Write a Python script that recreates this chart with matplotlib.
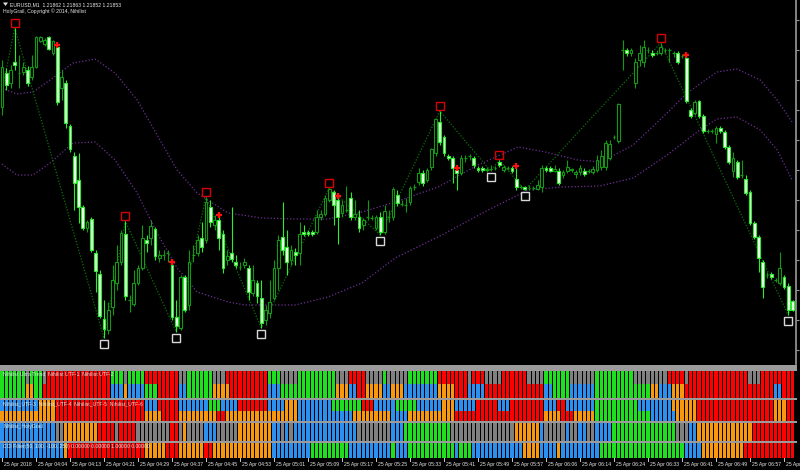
import matplotlib
matplotlib.use("Agg")
import matplotlib.pyplot as plt
from matplotlib.patches import Rectangle, Polygon

W, H = 800, 470
BAR_PX = 4.25          # horizontal spacing of one M1 bar
FIRST_PX = 2.0         # x pixel of bar 0

# EURUSD M1 bars, prices in points above 1.21000
OPEN = [1056, 1090, 1080, 1101, 1090, 1091, 1093, 1086, 1096, 1122,
        1119, 1126, 1110, 1116, 1075, 1080, 1037, 1007, 983, 956,
        935, 944, 910, 889, 844, 833, 856, 880, 901, 929,
        863, 859, 880, 895, 923, 925, 934, 905, 908, 910,
        898, 846, 835, 886, 858, 908, 910, 925, 923, 956,
        938, 943, 929, 903, 910, 901, 896, 898, 895, 870,
        880, 865, 843, 850, 865, 895, 926, 916, 903, 911,
        910, 931, 931, 931, 931, 946, 949, 963, 971, 963,
        950, 953, 965, 946, 946, 938, 946, 945, 935, 946,
        931, 946, 946, 968, 959, 958, 961, 976, 981, 990,
        983, 996, 1010, 1041, 1026, 1007, 1005, 993, 990, 1005,
        1007, 1005, 995, 995, 993, 994, 995, 1001, 993, 995,
        995, 984, 976, 976, 975, 975, 974, 976, 995, 995,
        992, 992, 988, 992, 993, 989, 991, 992, 992, 991,
        993, 996, 996, 1005, 1026, 1022, 1113, 1113, 1110, 1080,
        1103, 1101, 1113, 1110, 1110, 1110, 1113, 1113, 1110, 1110,
        1107, 1105, 1053, 1050, 1062, 1047, 1032, 1032, 1029, 1035,
        1031, 1016, 992, 1001, 988, 984, 971, 940, 926, 901,
        888, 889, 883, 880, 886, 877, 862]
CLOSE = [1096, 1078, 1093, 1098, 1090, 1096, 1080, 1096, 1126, 1126,
         1123, 1114, 1122, 1061, 1086, 1040, 1014, 980, 956, 935,
         941, 913, 892, 847, 834, 853, 883, 901, 930, 867,
         863, 880, 895, 925, 920, 937, 907, 908, 908, 910,
         846, 837, 886, 853, 901, 908, 923, 916, 961, 941,
         943, 925, 895, 907, 904, 898, 896, 901, 871, 883,
         867, 840, 853, 861, 895, 923, 913, 901, 913, 908,
         929, 929, 929, 929, 946, 949, 965, 974, 958, 946,
         958, 953, 946, 949, 935, 943, 946, 945, 946, 931,
         952, 946, 974, 960, 959, 958, 975, 976, 990, 980,
         993, 1014, 1044, 1021, 1010, 1005, 995, 990, 1005, 1005,
         1007, 998, 993, 993, 994, 994, 995, 998, 996, 995,
         992, 976, 976, 974, 975, 975, 978, 995, 993, 992,
         994, 980, 991, 996, 994, 991, 995, 989, 992, 994,
         1003, 1007, 1020, 1019, 1026, 1059, 1113, 1110, 1113, 1101,
         1110, 1116, 1113, 1108, 1110, 1116, 1113, 1113, 1110, 1101,
         1107, 1062, 1047, 1061, 1047, 1032, 1032, 1032, 1035, 1032,
         1016, 1001, 1005, 986, 988, 970, 940, 926, 905, 876,
         888, 886, 883, 895, 876, 853, 853]
HIGH = [1103, 1095, 1098, 1135, 1108, 1101, 1097, 1108, 1127, 1127,
        1125, 1127, 1123, 1118, 1093, 1083, 1039, 1011, 1010, 958,
        943, 946, 913, 893, 863, 861, 898, 918, 933, 942,
        868, 893, 898, 938, 928, 943, 936, 913, 913, 913,
        901, 863, 888, 888, 913, 918, 928, 941, 966, 963,
        948, 948, 933, 913, 956, 908, 901, 905, 898, 898,
        883, 883, 858, 883, 903, 928, 961, 933, 918, 915,
        941, 938, 933, 933, 953, 953, 968, 975, 973, 967,
        963, 977, 971, 963, 953, 945, 963, 948, 948, 951,
        958, 953, 976, 973, 963, 965, 977, 979, 995, 993,
        995, 1015, 1045, 1052, 1028, 1009, 1007, 995, 1008, 1008,
        1009, 1007, 997, 997, 996, 998, 997, 1003, 998, 997,
        997, 997, 978, 977, 978, 977, 983, 998, 997, 997,
        998, 995, 993, 1003, 995, 993, 998, 995, 994, 997,
        1008, 1013, 1023, 1023, 1028, 1060, 1123, 1115, 1115, 1105,
        1118, 1123, 1116, 1113, 1113, 1120, 1115, 1115, 1112, 1112,
        1109, 1108, 1055, 1063, 1063, 1049, 1034, 1034, 1037, 1037,
        1033, 1018, 1011, 1003, 1003, 988, 973, 942, 928, 903,
        891, 891, 885, 911, 888, 880, 863]
LOW = [1048, 1073, 1075, 1093, 1075, 1088, 1077, 1083, 1095, 1121,
       1117, 1113, 1108, 1058, 1063, 1035, 1011, 953, 940, 933,
       931, 911, 871, 845, 825, 829, 848, 873, 898, 863,
       851, 857, 878, 893, 911, 918, 903, 901, 903, 901,
       843, 831, 833, 851, 853, 901, 907, 911, 920, 936,
       933, 913, 890, 898, 901, 895, 893, 895, 863, 867,
       860, 835, 838, 845, 863, 873, 908, 888, 898, 898,
       898, 927, 927, 927, 929, 943, 947, 961, 938, 919,
       946, 951, 943, 943, 931, 933, 943, 943, 933, 928,
       929, 941, 943, 957, 957, 951, 958, 973, 978, 977,
       981, 993, 1007, 1018, 1007, 1003, 980, 973, 988, 1001,
       1003, 995, 991, 991, 991, 992, 993, 996, 991, 993,
       990, 973, 974, 973, 973, 973, 973, 971, 991, 991,
       991, 978, 985, 990, 991, 985, 988, 987, 990, 989,
       991, 993, 993, 1003, 1024, 1020, 1093, 1107, 1107, 1075,
       1097, 1096, 1110, 1106, 1108, 1108, 1110, 1101, 1106, 1099,
       1105, 1060, 1045, 1048, 1045, 1030, 1030, 1030, 1020, 1030,
       1014, 999, 986, 984, 985, 968, 938, 924, 891, 865,
       885, 884, 881, 878, 874, 848, 852]

# zigzag swing points (bar index, 'H' = swing high, 'L' = swing low)
ZIGZAG_START = 1073
PIVOTS = [(3, 'H'), (24, 'L'), (29, 'H'), (41, 'L'), (48, 'H'), (61, 'L'),
          (77, 'H'), (89, 'L'), (103, 'H'), (115, 'L'), (117, 'H'),
          (123, 'L'), (155, 'H'), (185, 'L')]
SIGNAL_BARS = [13, 40, 51, 79, 107, 121, 161]

# channel lines (sampled along the bars)
ENV_UP_BARS = [0, 3.5, 7.3, 11.3, 16.7, 21.9, 26.6, 31.8, 36.5, 41.2, 45.9,
               53.2, 61.2, 69, 76.7, 84.7, 92.5, 102.6, 112, 121.4, 127.8,
               135.5, 141, 148.5, 156.5, 161.2, 168.2, 172.9, 178.4, 182.4,
               185.9]
ENV_UP = [1075, 1069, 1071, 1083, 1100, 1104, 1090, 1063, 1028, 993, 970,
          950, 945, 944, 944, 951, 961, 976, 998, 1016, 1011,
          1003, 1001, 1018, 1050, 1070, 1091, 1094, 1083, 1063, 1041]
ENV_LO_BARS = [0, 3.5, 7.3, 11.3, 16.7, 21.9, 26.6, 31.8, 36.5, 41.2, 45.9,
               53.2, 57.2, 69, 76.7, 84.7, 92.5, 103.5, 114.4, 123.8, 131.8,
               140.7, 148.5, 156.5, 164.2, 168.2, 172.9, 178.4, 182.4, 185.9]
ENV_LO = [999, 988, 988, 1000, 1020, 1021, 1003, 970, 930, 895, 871,
          861, 858, 858, 866, 880, 905, 928, 953, 973, 976,
          977, 985, 1008, 1033, 1044, 1046, 1033, 1013, 983]

TIME_LABELS = ["25 Apr 2018", "25 Apr 04:04", "25 Apr 04:13", "25 Apr 04:21",
               "25 Apr 04:29", "25 Apr 04:37", "25 Apr 04:45", "25 Apr 04:53",
               "25 Apr 05:01", "25 Apr 05:09", "25 Apr 05:17", "25 Apr 05:25",
               "25 Apr 05:33", "25 Apr 05:41", "25 Apr 05:49", "25 Apr 05:57",
               "25 Apr 06:06", "25 Apr 06:14", "25 Apr 06:24", "25 Apr 06:33",
               "25 Apr 06:41", "25 Apr 06:49", "25 Apr 06:57", "25 Apr"]
LABEL_EVERY = 8

# indicator colour states per bar, run-length: (state, number of bars)
ULTRA_TOP = [("G", 6), ("A", 1), ("G", 3), ("A", 1), ("R", 15), ("G", 3), ("A", 1),
             ("G", 4), ("R", 8), ("A", 2), ("G", 6), ("A", 3), ("R", 10),
             ("G", 3), ("A", 4), ("G", 9), ("A", 3), ("R", 4), ("A", 4), ("G", 1),
             ("A", 5), ("G", 7), ("R", 7), ("A", 1), ("R", 3), ("A", 4), ("R", 6),
             ("A", 3), ("A", 1), ("G", 6), ("A", 6), ("G", 9), ("A", 8), ("R", 4),
             ("A", 1), ("R", 14), ("A", 3), ("R", 8)]
ULTRA_BOT = [("G", 6), ("O", 2), ("G", 2), ("R", 16), ("B", 3), ("O", 1), ("B", 4),
             ("G", 3), ("R", 5), ("B", 2), ("G", 6), ("O", 4), ("R", 9),
             ("B", 3), ("G", 13), ("O", 3), ("B", 2), ("R", 2), ("O", 4), ("B", 2),
             ("O", 3), ("B", 8), ("O", 4), ("R", 3), ("B", 4), ("R", 13),
             ("R", 1), ("B", 2), ("G", 4), ("B", 6), ("G", 13), ("O", 2), ("B", 3),
             ("O", 3), ("R", 21), ("B", 2), ("R", 3)]
UTF_TOP = [("B", 9), ("O", 4), ("R", 21), ("B", 3), ("R", 5), ("B", 7), ("G", 3),
           ("B", 4), ("R", 7),
           ("B", 4), ("O", 3), ("B", 8), ("G", 7), ("R", 3), ("B", 5), ("G", 5),
           ("B", 6), ("O", 3), ("B", 5), ("R", 5), ("B", 3), ("R", 7),
           ("R", 1), ("B", 3), ("R", 2), ("B", 7), ("G", 10), ("B", 8), ("O", 6),
           ("R", 18), ("O", 3), ("R", 2)]
UTF_BOT = [("O", 13), ("R", 21), ("O", 4), ("R", 4), ("O", 9), ("R", 2), ("O", 10),
           ("O", 7), ("B", 13), ("O", 9), ("B", 4), ("O", 11), ("R", 20),
           ("R", 1), ("O", 4), ("R", 3), ("O", 5), ("G", 13), ("B", 6), ("O", 5),
           ("R", 18), ("O", 3), ("R", 2)]
HOLYGRAIL = [("B", 13), ("A", 2), ("O", 8), ("R", 4), ("A", 1), ("R", 4), ("A", 8),
             ("R", 2), ("A", 1), ("O", 1), ("A", 4), ("B", 3), ("A", 5), ("O", 8),
             ("B", 2), ("A", 1), ("B", 1), ("A", 1), ("B", 15), ("A", 8), ("B", 3),
             ("G", 11), ("A", 15), ("O", 6), ("B", 1), ("A", 5), ("B", 1), ("A", 2),
             ("B", 2), ("A", 2), ("B", 4), ("G", 15), ("A", 3), ("B", 2), ("O", 13),
             ("R", 10)]
CCI_FILTER = [("B", 15), ("O", 1), ("R", 18), ("O", 5), ("R", 3), ("O", 6), ("R", 2),
              ("O", 14), ("B", 9), ("G", 9), ("B", 10), ("G", 1), ("B", 3), ("G", 11),
              ("B", 1), ("G", 3), ("B", 12), ("O", 4), ("B", 4), ("O", 1), ("B", 9),
              ("G", 20), ("B", 4), ("O", 10), ("R", 12)]

STATE_COLORS = {"R": "#ff0000", "G": "#1ee01e", "O": "#f7980f",
                "B": "#2b90f0", "A": "#808080"}


def expand(runs):
    out = []
    for state, n in runs:
        out.extend([state] * n)
    return out


def px_axes(fig, x0, y0, x1, y1):
    return fig.add_axes([x0 / W, 1 - y1 / H, (x1 - x0) / W, (y1 - y0) / H])


def px_text(fig, x, y, s, **kw):
    fig.text(x / W, 1 - y / H, s, **kw)


def px_rect(fig, x0, y0, x1, y1, color):
    fig.patches.append(Rectangle((x0 / W, 1 - y1 / H), (x1 - x0) / W, (y1 - y0) / H,
                                 transform=fig.transFigure, facecolor=color,
                                 edgecolor="none", zorder=0))


def bar_xlim(ax, x_right_px):
    ax.set_xlim((0 - FIRST_PX) / BAR_PX, (x_right_px - FIRST_PX) / BAR_PX)


def clean(ax):
    ax.set_facecolor("black")
    ax.set_xticks([])
    ax.set_yticks([])
    for s in ax.spines.values():
        s.set_visible(False)


fig = plt.figure(figsize=(W / 100, H / 100), dpi=100, facecolor="black")
FONT = dict(family="Liberation Sans", fontsize=3.7, color="#e8e8e8")

# ---- main price window ----
MAIN_BOTTOM = 364
ax = px_axes(fig, 0, 0, 796, MAIN_BOTTOM)
clean(ax)
bar_xlim(ax, 796)
top_pts = 1163
ax.set_ylim(top_pts - MAIN_BOTTOM, top_pts)

bars = range(len(OPEN))
bull_edge, bear_edge = "#139a13", "#2aee2a"
for i in bars:
    o, c, hi, lo = OPEN[i], CLOSE[i], HIGH[i], LOW[i]
    edge = bear_edge if c < o else bull_edge
    ax.vlines(i, lo, hi, color=edge, lw=0.8, zorder=2)
    if c == o:
        ax.hlines(o, i - 0.35, i + 0.35, color=bull_edge, lw=0.9, zorder=3)
    else:
        face = "#eaffea" if c < o else "black"
        ax.bar(i, abs(c - o), bottom=min(o, c), width=0.62, facecolor=face,
               edgecolor=edge, lw=0.8, zorder=3)

# channel
ax.plot(ENV_UP_BARS, ENV_UP, color="#6d2f93", lw=0.9, ls=(0, (1, 1.6)), zorder=1)
ax.plot(ENV_LO_BARS, ENV_LO, color="#6d2f93", lw=0.9, ls=(0, (1, 1.6)), zorder=1)

# zigzag
zx = [0] + [p for p, _ in PIVOTS] + [len(OPEN) - 1]
zy = [ZIGZAG_START] + [HIGH[p] if k == "H" else LOW[p] for p, k in PIVOTS] + [CLOSE[-1] + 8]
ax.plot(zx, zy, color="#0b720b", lw=0.9, ls=(0, (1, 1.4)), zorder=1)

# swing markers
hx = [p for p, k in PIVOTS if k == "H"]
lx = [p for p, k in PIVOTS if k == "L"]
ax.plot(hx, [HIGH[p] + 5 for p in hx], "s", ms=5.2, mfc="none", mec="#d80000",
        mew=1.0, zorder=5)
ax.plot(lx, [LOW[p] - 6 for p in lx], "s", ms=5.2, mfc="none", mec="#d8d8d8",
        mew=1.0, zorder=5)
ax.plot(SIGNAL_BARS, [HIGH[b] for b in SIGNAL_BARS], "+", ms=4.5, mew=1.6,
        color="#ff1010", zorder=6)

# price scale line with ticks on the right
ax.spines["right"].set_visible(True)
ax.spines["right"].set_color("#9a9a9a")
ax.spines["right"].set_linewidth(1.2)
ax.yaxis.tick_right()
ax.set_yticks(list(range(813, top_pts, 30)))
ax.tick_params(axis="y", colors="#9a9a9a", length=2.5, width=0.8, labelright=False)

# header
fig.patches.append(Polygon([(3 / W, 1 - 2.5 / H), (8 / W, 1 - 2.5 / H), (5.5 / W, 1 - 6 / H)],
                           closed=True, transform=fig.transFigure, facecolor="#e0e0e0",
                           edgecolor="none"))
px_text(fig, 10, 4.5, "EURUSD,M1  1.21862 1.21863 1.21852 1.21853", va="center", **FONT)
px_text(fig, 3, 11.5, "HolyGrail, Copyright \u00a9 2014, Nihilist", va="center", **FONT)

# ---- indicator windows ----
px_rect(fig, 0, 365, 797, 370.5, "#9b9b9b")
px_rect(fig, 0, 398, 797, 400, "#9b9b9b")
px_rect(fig, 0, 421, 797, 423, "#9b9b9b")
px_rect(fig, 0, 441, 797, 443, "#9b9b9b")


def state_row(y0, y1, layers, label):
    a = px_axes(fig, 0, y0, 797, y1)
    clean(a)
    bar_xlim(a, 797)
    a.set_ylim(0, 1)
    n = len(layers)
    for li, runs in enumerate(layers):
        states = expand(runs)
        a.bar(range(len(states)), 1.0 / n, bottom=1 - (li + 1) / n, width=0.76,
              color=[STATE_COLORS[s] for s in states], lw=0)
    a.text(0.004, 0.93, label, transform=a.transAxes, va="top", ha="left", **FONT)
    return a


state_row(370.5, 398, [ULTRA_TOP, ULTRA_BOT],
          "Nihilist Ultra Trend  Nihilist UTF-1  Nihilist UTF-2")
state_row(400, 421, [UTF_TOP, UTF_BOT],
          "Nihilist_UTF-3  Nihilist_UTF-4  Nihilist_UTF-5  Nihilist_UTF-6")
state_row(423, 441, [HOLYGRAIL], "Nihilist_HolyGrail")
state_row(443, 458, [CCI_FILTER],
          "CCI Filter(50, 100, -100, 250) 0.00000 0.00000 1.00000 0.00000")

# time axis
for k, lab in enumerate(TIME_LABELS):
    xp = FIRST_PX + k * LABEL_EVERY * BAR_PX
    fig.add_artist(plt.Line2D([xp / W, xp / W], [1 - 458 / H, 1 - 461 / H],
                              transform=fig.transFigure, color="#c8c8c8", lw=0.7))
    px_text(fig, xp + 1.5, 464.5, lab, va="center", ha="left", **FONT)

fig.savefig("out.png", dpi=100, facecolor="black")
